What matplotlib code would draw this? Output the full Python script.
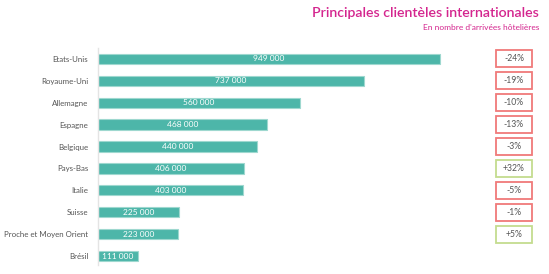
import matplotlib.pyplot as plt
from matplotlib.patches import Rectangle
import matplotlib.transforms as mtransforms

plt.rcParams['font.family'] = ['Lato', 'DejaVu Sans']

countries = ["Etats-Unis", "Royaume-Uni", "Allemagne", "Espagne", "Belgique",
             "Pays-Bas", "Italie", "Suisse", "Proche et Moyen Orient", "Brésil"]
arrivals = [949000, 737000, 560000, 468000, 440000, 406000, 403000, 225000, 223000, 111000]
changes = [-24, -19, -10, -13, -3, 32, -5, -1, 5, None]

W, H = 549, 274
fig = plt.figure(figsize=(W / 100, H / 100), dpi=100)
ax = fig.add_axes([98 / W, (H - 265) / H, (W - 98) / W, (265 - 48) / H])

y = list(range(len(countries)))
ax.barh(y, arrivals, height=0.47, color="#4db6a9", edgecolor="#9ed8cf", linewidth=0.8)
ax.set_xlim(0, 1251000)
ax.set_ylim(9.41, -0.5)

for i, v in enumerate(arrivals):
    lab = f"{v:,}".replace(",", " ")
    ax.text(v / 2, i, lab, ha="center", va="center", color="white", fontsize=6)

ax.set_yticks(y)
ax.set_yticklabels(countries, fontsize=5.7, color="#555555")
ax.tick_params(axis="y", length=0, pad=7)
ax.set_xticks([])
for s in ["top", "right", "bottom"]:
    ax.spines[s].set_visible(False)
ax.spines["left"].set_color("#e4e4e4")
ax.spines["left"].set_linewidth(1)

# variation boxes on the right
trans = mtransforms.blended_transform_factory(fig.transFigure, ax.transData)
bw = 36 / W
bh = 17 / 21.9
for i, c in enumerate(changes):
    if c is None:
        continue
    edge = "#f07a7a" if c < 0 else "#c4dc8f"
    ax.add_patch(Rectangle((496 / W, i - bh / 2), bw, bh, transform=trans,
                           fc="white", ec=edge, lw=1.3, clip_on=False))
    ax.text(514 / W, i, f"{c:+d}%", transform=trans, ha="center", va="center",
            fontsize=6.2, color="#555555")

fig.text(539 / W, 1 - 13 / H, "Principales clientèles internationales",
         ha="right", va="center", color="#d4258e", fontsize=10.2, weight="semibold")
fig.text(539 / W, 1 - 27 / H, "En nombre d'arrivées hôtelières",
         ha="right", va="center", color="#d4258e", fontsize=6.0)

fig.savefig("out.png", dpi=100)
